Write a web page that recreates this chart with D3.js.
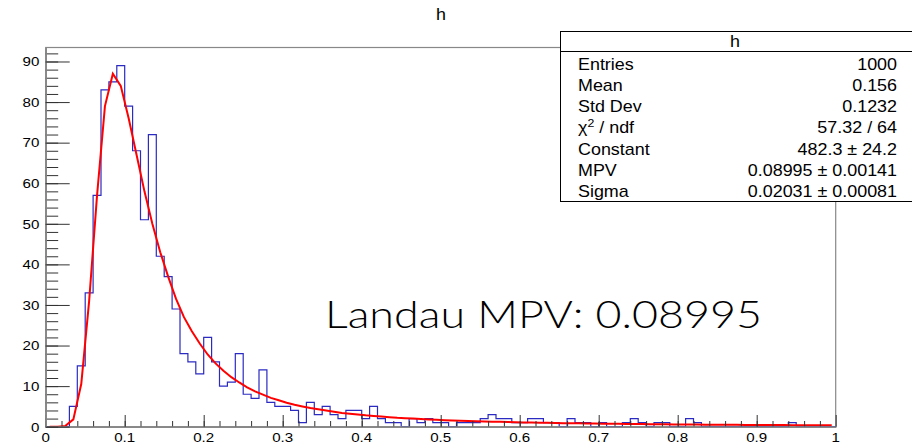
<!DOCTYPE html>
<html>
<head>
<meta charset="utf-8">
<script src="https://cdn.jsdelivr.net/npm/d3@7"></script>
<style>
  body { margin: 0; background: #fff; }
  svg { display: block; }
</style>
</head>
<body>
<div id="chart"></div>
<script>
// histogram "h": 100 bins on [0, 1]
const binCounts = [
  0, 0, 0, 5, 15, 33, 57, 83, 85, 89,
  79, 68, 51, 72, 42, 37, 29, 18, 16, 13,
  22, 16, 10, 11, 18, 8, 7, 14, 6, 5,
  5, 4, 1, 6, 3, 5, 3, 2, 4, 4,
  2, 5, 2, 1, 1, 0, 2, 1, 2, 1,
  1, 0, 1, 1, 1, 2, 3, 2, 2, 1,
  1, 2, 2, 1, 1, 0, 2, 1, 1, 0,
  1, 0, 0, 1, 2, 1, 0, 1, 1, 0,
  0, 2, 1, 0, 0, 0, 0, 0, 0, 0,
  0, 0, 0, 0, 1, 0, 0, 0, 0, 0
];
// Landau fit, read at the bin centres
const fitValues = [
  0, 0, 0.2, 1.8, 10.5, 31, 57, 79, 87, 84,
  76, 67, 58, 50, 43, 37, 31.5, 27, 23.5, 20.5,
  17.8, 15.6, 13.8, 12.2, 10.9, 9.7, 8.7, 7.9, 7.1, 6.5,
  5.9, 5.4, 5.0, 4.6, 4.3, 4.0, 3.7, 3.4, 3.2, 3.0,
  2.8, 2.65, 2.5, 2.35, 2.2, 2.1, 2.0, 1.9, 1.8, 1.7,
  1.62, 1.55, 1.48, 1.42, 1.36, 1.3, 1.25, 1.2, 1.15, 1.1,
  1.06, 1.02, 0.98, 0.95, 0.92, 0.88, 0.85, 0.82, 0.8, 0.77,
  0.75, 0.72, 0.7, 0.68, 0.66, 0.64, 0.62, 0.6, 0.58, 0.57,
  0.55, 0.54, 0.52, 0.51, 0.49, 0.48, 0.47, 0.46, 0.44, 0.43,
  0.42, 0.41, 0.4, 0.39, 0.38, 0.37, 0.36, 0.35, 0.35, 0.34
];
const xMajorTicks = [0, 0.1, 0.2, 0.3, 0.4, 0.5, 0.6, 0.7, 0.8, 0.9, 1];
const yMajorTicks = [0, 10, 20, 30, 40, 50, 60, 70, 80, 90];
const statNames = ["Entries", "Mean", "Std Dev", "chi2", "Constant", "MPV", "Sigma"];
const statValues = ["1000", "0.156", "0.1232", "57.32 / 64", "482.3 \u00b1 24.2", "0.08995 \u00b1 0.00141", "0.02031 \u00b1 0.00081"];
const histTitle = "h";
const annotation = "Landau MPV: 0.08995";

const svgWidth = 912;
const svgHeight = 446;
const frame = { left: 45.7, right: 835.7, top: 47.5, bottom: 426.7 };
const stretch = 1.12; // ROOT text looks horizontally stretched
const rootFont = "'Liberation Sans', Arial, Helvetica, sans-serif";

const xMinorTicks = d3.range(0, 50).map(i => i * 0.02);
const yMinorTicks = d3.range(0, 47).map(i => i * 2);

const svg = d3.select("#chart")
  .append("svg")
  .attr("width", svgWidth)
  .attr("height", svgHeight);

const x = d3.scaleLinear().domain([0, 1]).range([frame.left, frame.right]);
const y = d3.scaleLinear().domain([0, 89 * 1.05]).range([frame.bottom, frame.top]);

function rootText(parent, tx, ty, str, size, anchor) {
  return parent.append("g")
    .attr("transform", `translate(${tx},${ty}) scale(${stretch},1)`)
    .append("text")
    .attr("text-anchor", anchor)
    .style("font-family", rootFont)
    .style("font-size", size + "px")
    .style("fill", "#000")
    .text(str);
}

// frame
svg.append("rect")
  .attr("x", frame.left)
  .attr("y", frame.top)
  .attr("width", frame.right - frame.left)
  .attr("height", frame.bottom - frame.top)
  .attr("fill", "none")
  .attr("stroke", "#888")
  .attr("stroke-width", 1.2);

// histogram outline
const histPoints = binCounts.map((c, i) => ({ x: i / binCounts.length, y: c }));
histPoints.push({ x: 1, y: binCounts[binCounts.length - 1] });
svg.append("path")
  .datum(histPoints)
  .attr("fill", "none")
  .attr("stroke", "#2b2bc2")
  .attr("stroke-width", 1.2)
  .attr("d", d3.line().x(d => x(d.x)).y(d => y(d.y)).curve(d3.curveStepAfter));

// fit curve
svg.append("path")
  .datum(fitValues.map((v, i) => ({ x: (i + 0.5) / fitValues.length, y: v })))
  .attr("fill", "none")
  .attr("stroke", "#ff0000")
  .attr("stroke-width", 2)
  .attr("d", d3.line().x(d => x(d.x)).y(d => y(d.y)));

// axes
const xAxisG = svg.append("g").attr("transform", `translate(0,${frame.bottom})`);
xAxisG.append("g")
  .call(d3.axisBottom(x).tickValues(xMinorTicks).tickSizeInner(-5.7).tickSizeOuter(0).tickFormat(""));
xAxisG.append("g")
  .call(d3.axisBottom(x).tickValues(xMajorTicks).tickSizeInner(-11.7).tickSizeOuter(0).tickFormat(""));
xAxisG.selectAll(".tick line").attr("stroke", "#333");
xAxisG.selectAll(".domain").attr("stroke", "#888").attr("stroke-width", 1.4);

const yAxisG = svg.append("g").attr("transform", `translate(${frame.left},0)`);
yAxisG.append("g")
  .call(d3.axisLeft(y).tickValues(yMinorTicks).tickSizeInner(-12.5).tickSizeOuter(0).tickFormat(""));
yAxisG.append("g")
  .call(d3.axisLeft(y).tickValues(yMajorTicks).tickSizeInner(-24).tickSizeOuter(0).tickFormat(""));
yAxisG.selectAll(".tick line").attr("stroke", "#333");
yAxisG.selectAll(".domain").attr("stroke", "#888").attr("stroke-width", 1.4);

// tick labels
xMajorTicks.forEach(t => {
  rootText(svg, x(t), frame.bottom + 15.3, String(t), 13.5, "middle");
});
yMajorTicks.forEach(t => {
  rootText(svg, frame.left - 6.4, y(t) + 4.8, String(t), 13.5, "end");
});

// title
rootText(svg, 441, 20, histTitle, 16, "middle");

// stats box
const box = { left: 560.5, top: 31.5, right: 913, bottom: 201.5 };
svg.append("rect")
  .attr("x", box.left)
  .attr("y", box.top)
  .attr("width", box.right - box.left)
  .attr("height", box.bottom - box.top)
  .attr("fill", "#fff")
  .attr("stroke", "#000")
  .attr("stroke-width", 1);
svg.append("line")
  .attr("x1", box.left).attr("x2", box.right)
  .attr("y1", 51.5).attr("y2", 51.5)
  .attr("stroke", "#000");
rootText(svg, 735, 47, histTitle, 16, "middle");

const rowY = d3.scaleLinear().domain([0, statNames.length - 1]).range([69.7, 196.9]);
statNames.forEach((name, i) => {
  const t = rootText(svg, 578, rowY(i), "", 16, "start");
  if (name === "chi2") {
    t.append("tspan").text("\u03c7");
    t.append("tspan").attr("dy", -6).style("font-size", "11px").text("2");
    t.append("tspan").attr("dy", 6).text(" / ndf");
  } else {
    t.text(name);
  }
  rootText(svg, 897, rowY(i), statValues[i], 16, "end");
});

// annotation
svg.append("text")
  .attr("x", 325)
  .attr("y", 328.3)
  .attr("textLength", 437)
  .attr("lengthAdjust", "spacingAndGlyphs")
  .style("font-family", "Lato, 'Noto Sans CJK SC', sans-serif")
  .style("font-weight", 300)
  .style("font-size", "37px")
  .style("fill", "#000")
  .text(annotation);
</script>
</body>
</html>
